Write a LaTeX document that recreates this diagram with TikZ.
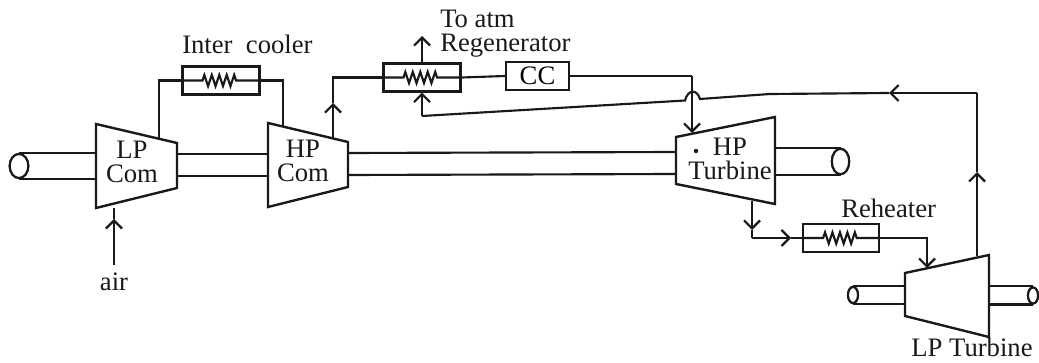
\documentclass[tikz,border=0pt]{standalone}
\usepackage{fontspec}
\setmainfont{Liberation Serif}
\usetikzlibrary{shapes.geometric, arrows.meta, positioning, calc, decorations.pathmorphing}
\definecolor{cInk}{RGB}{25,25,25}
\tikzset{
	pipe/.style    ={draw=cInk, line width=1.6pt},
	flow/.style    ={draw=cInk, line width=1.6pt, -{Straight Barb[length=6pt, width=12pt]}},
	casing/.style  ={draw=cInk, line width=1.8pt, line join=miter, fill=white},
	hxbox/.style   ={rectangle, draw=cInk, line width=1.8pt, minimum height=21pt, inner sep=0pt, fill=white},
	coil/.style    ={draw=cInk, line width=1.6pt, decorate, decoration={zigzag, amplitude=4.2pt, segment length=5.6pt, pre=lineto, pre length=16pt, post=lineto, post length=16pt}},
	shaftcap/.style={ellipse, draw=cInk, line width=1.6pt, fill=white, inner sep=0pt},
	lbl/.style     ={text=cInk, inner sep=0pt, align=center},
}
\begin{document}
\begin{tikzpicture}[x=0.75pt, y=-0.75pt, font=\fontsize{20}{18}\selectfont]
	\useasboundingbox (0,0) rectangle (1039,363);
	% compressor and turbine corners
	\coordinate (lpcNW) at (96,124);   \coordinate (lpcNE) at (177,143);
	\coordinate (lpcSE) at (177,188);  \coordinate (lpcSW) at (96,208);
	\coordinate (hpcNW) at (268,123);  \coordinate (hpcNE) at (348,142);
	\coordinate (hpcSE) at (348,187);  \coordinate (hpcSW) at (268,207);
	\coordinate (hptNW) at (676,137);  \coordinate (hptNE) at (775,117);
	\coordinate (hptSE) at (775,204);  \coordinate (hptSW) at (676,184);
	\coordinate (lptNW) at (905,273);  \coordinate (lptNE) at (989,255);
	\coordinate (lptSE) at (989,337);  \coordinate (lptSW) at (905,316);
	% heat exchangers and combustor
	\node[hxbox, minimum width=58pt] (icool) at (221,80.5) {};
	\node[hxbox, minimum width=58pt] (regen) at (422,77.5) {};
	\node[hxbox, minimum width=47pt] (cc) at (537.5,76) {CC};
	\node[hxbox, minimum width=57pt] (reheat) at (841,238) {};
	% shafts
	\node[shaftcap, minimum width=14pt, minimum height=18pt] (capA) at (19,166) {};
	\node[shaftcap, minimum width=13pt, minimum height=19pt] (capB) at (840.5,161.5) {};
	\node[shaftcap, minimum width=7.5pt, minimum height=12pt] (capC) at (853,295) {};
	\node[shaftcap, minimum width=7.5pt, minimum height=12pt] (capD) at (1033,295.5) {};
	\draw[pipe] (capA.north) -- (capA.north -| lpcNW);
	\draw[pipe] (capA.south) -- (capA.south -| lpcNW);
	\draw[pipe] (177,154) -- (268,154);
	\draw[pipe] (177,176) -- (268,176);
	\draw[pipe] (348,153) -- (676,152);
	\draw[pipe] (348,175) -- (676,174);
	\draw[pipe] (capB.north) -- (capB.north -| hptNE);
	\draw[pipe] (capB.south) -- (capB.south -| hptNE);
	\draw[pipe] (capC.north) -- (capC.north -| lptNW);
	\draw[pipe] (capC.south) -- (capC.south -| lptNW);
	\draw[pipe] (capD.north) -- (capD.north -| lptNE);
	\draw[pipe] (capD.south) -- (capD.south -| lptNE);
	\draw[casing] (lpcNW) -- (lpcNE) -- (lpcSE) -- (lpcSW) -- cycle;
	\draw[casing] (hpcNW) -- (hpcNE) -- (hpcSE) -- (hpcSW) -- cycle;
	\draw[casing] (hptNW) -- (hptNE) -- (hptSE) -- (hptSW) -- cycle;
	\draw[casing] (lptNW) -- (lptNE) -- (lptSE) -- (lptSW) -- cycle;
	\node[shaftcap, minimum width=14pt, minimum height=18pt] at (capA) {};
	\node[shaftcap, minimum width=13pt, minimum height=19pt] at (capB) {};
	\node[shaftcap, minimum width=7.5pt, minimum height=12pt] at (capC) {};
	\node[shaftcap, minimum width=7.5pt, minimum height=12pt] at (capD) {};
	% labels
	\node[lbl] (lpcText) at (132,162) {LP\\Com};
	\node[lbl] (hpcText) at (303,161) {HP\\Com};
	\node[lbl] (hptText) at (730,159) {HP\\Turbine};
	\node[lbl, anchor=base] (lptText) at (972,357) {LP Turbine};
	\node[lbl, anchor=base] (airText) at (114,291) {air};
	\node[lbl, anchor=base west] (icoolText) at (182,54) {Inter\hspace{0.25em} cooler};
	\node[lbl, anchor=base west] (atmText) at (440,28) {To atm};
	\node[lbl, anchor=base west] (regenText) at (440,52) {Regenerator};
	\node[lbl, anchor=base west] (reheatText) at (841,218) {Reheater};
	\fill[cInk] (696,151) circle (2.2);
	% working fluid path
	\coordinate (airIn) at (114,265);   \coordinate (airTip) at (114,219);
	\coordinate (lpcOut) at (159,138);  \coordinate (hpcIn) at (283,126);
	\coordinate (hpcOut) at (333,138);  \coordinate (hpcTip) at (333,103);
	\coordinate (atmTip) at (422,36);
	\coordinate (ccDrop) at (692,76);   \coordinate (hptIn) at (692,133);
	\coordinate (hptOut) at (752,201);  \coordinate (hptTip) at (752,230);
	\coordinate (rhBend) at (752,238);  \coordinate (rhTip) at (791,238);
	\coordinate (lptIn) at (927,268);
	\coordinate (lptOut) at (977,256);  \coordinate (lptTip) at (977,172);
	\coordinate (backTop) at (977,93);  \coordinate (backTip) at (889,93);
	\coordinate (backKnee) at (770,94);
	\coordinate (jumpR) at (700,99);    \coordinate (jumpL) at (685,100.5);
	\coordinate (regenKnee) at (422,116);
	\draw[flow] (airIn) -- (airTip);
	\draw[pipe] (airTip) -- (lpcSW -| airTip);
	\draw[pipe] (lpcOut) |- (icool.west);
	\draw[coil] (icool.west) -- (icool.east);
	\draw[pipe] (icool.east) -| (hpcIn);
	\draw[flow] (hpcOut) -- (hpcTip);
	\draw[pipe] (hpcTip) |- (regen.west);
	\draw[coil] (regen.west) -- (regen.east);
	\draw[pipe] (regen.east) -- (cc.west);
	\draw[flow] (regen.north) -- (atmTip);
	\draw[pipe] (cc.east) -- (ccDrop);
	\draw[flow] (ccDrop) -- (hptIn);
	\draw[flow] (hptOut) -- (hptTip);
	\draw[pipe] (hptTip) -- (rhBend);
	\draw[flow] (rhBend) -- (rhTip);
	\draw[pipe] (rhTip) -- (reheat.west);
	\draw[coil] (reheat.west) -- (reheat.east);
	\draw[flow] (reheat.east) -| (lptIn);
	\draw[flow] (lptOut) -- (lptTip);
	\draw[pipe] (lptTip) -- (backTop);
	\draw[flow] (backTop) -- (backTip);
	\draw[pipe] (backTip) -- (backKnee) -- (jumpR) .. controls (697,89) and (688,89) .. (jumpL) -- (regenKnee);
	\draw[flow] (regenKnee) -- (regen.south);
\end{tikzpicture}
\end{document}
